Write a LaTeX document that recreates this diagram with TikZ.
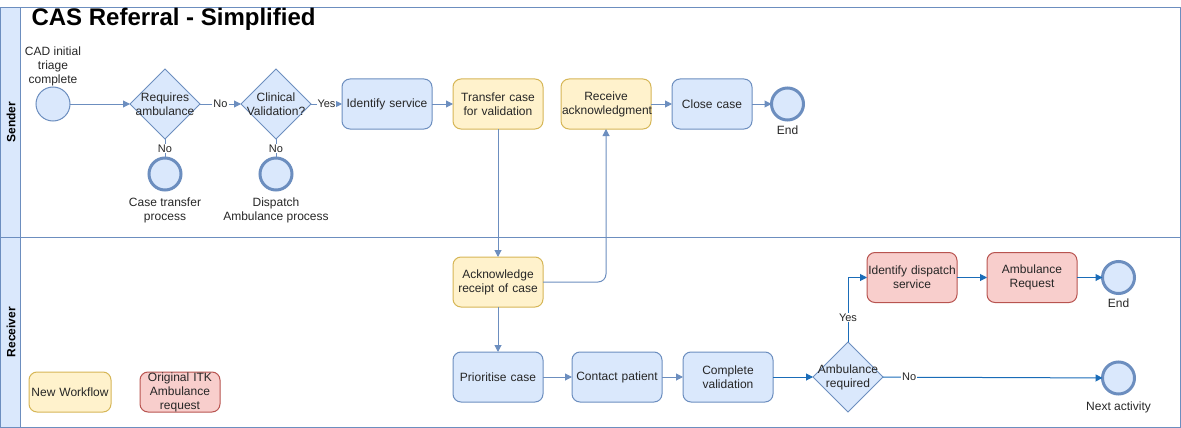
\documentclass[tikz,border=0pt]{standalone}
\usepackage{fontspec}
\setmainfont{Liberation Sans}
\usetikzlibrary{shapes.geometric, positioning}
\usetikzlibrary{arrows.meta}
\definecolor{bluefill}{HTML}{DAE8FC}
\definecolor{blueline}{HTML}{6C8EBF}
\definecolor{yellowfill}{HTML}{FFF2CC}
\definecolor{yellowline}{HTML}{D6B656}
\definecolor{redfill}{HTML}{F8CECC}
\definecolor{redline}{HTML}{B85450}
\definecolor{darkblue}{HTML}{1A6CB8}
\tikzset{>={Triangle[length=7pt,width=7pt]}}

\begin{document}
\begin{tikzpicture}[x=1pt, y=-1pt, font=\fontsize{12}{14}\selectfont, text=black!85,
    task/.style={rectangle, rounded corners=8pt, draw=blueline, fill=bluefill, line width=1pt, minimum width=90pt, text width=88pt, minimum height=50pt, align=center, inner sep=1pt, outer sep=0pt},
    newtask/.style={task, draw=yellowline, fill=yellowfill},
    itktask/.style={task, draw=redline, fill=redfill},
    gateway/.style={diamond, draw=blueline, fill=bluefill, line width=1pt, minimum size=70pt, inner sep=0pt, outer sep=0pt, shape aspect=1},
    startevent/.style={circle, draw=blueline, fill=bluefill, line width=1pt, minimum size=34pt, inner sep=0pt, outer sep=0pt},
    endevent/.style={circle, draw=blueline, fill=bluefill, line width=3pt, minimum size=32pt, inner sep=0pt, outer sep=0pt},
    emptynode/.style={draw=none, fill=none, align=center},
    lanelabel/.style={emptynode, rotate=90, text=black, font=\fontsize{12}{14}\selectfont\bfseries},
    edgelabel/.style={fill=white, inner sep=1pt, font=\fontsize{11}{13}\selectfont},
    flow/.style={->, draw=blueline, line width=1pt},
    darkflow/.style={->, draw=darkblue, line width=1pt}]

    \useasboundingbox (0,0) rectangle (1181,428);

    %Pool and lanes
    \fill[bluefill] (0.5,7.5) rectangle (20.5,427);
    \draw[blueline, line width=1pt] (0.5,7.5) rectangle (1180.5,427);
    \draw[blueline, line width=1pt] (20.5,7.5) -- (20.5,427);
    \draw[blueline, line width=1pt] (0.5,237) -- (1180.5,237);
    \node[lanelabel](sender_lane) at (11,122){Sender};
    \node[lanelabel](receiver_lane) at (11,332){Receiver};
    \node[emptynode, anchor=west, text=black, font=\fontsize{24}{28}\selectfont\bfseries](title) at (28,19.5){CAS Referral - Simplified};

    %Nodes - sender
    \node[startevent](start) at (53,104){};
    \node[emptynode](start_text) at (53,66){CAD initial\\triage\\complete};
    \node[gateway, label={[align=center]center:Requires\\ambulance}](requires) at (165,104){};
    \node[gateway, label={[align=center]center:Clinical\\Validation?}](clinical) at (276,104){};
    \node[endevent, label={[align=center, yshift=-4pt]below:Case transfer\\process}](case_transfer) at (165,174){};
    \node[endevent, label={[align=center, yshift=-4pt]below:Dispatch\\Ambulance process}](dispatch_process) at (276,174){};
    \node[task](identify) at (387,104){Identify service};
    \node[newtask](transfer)[right=21pt of identify]{Transfer case\\for validation};
    \node[newtask](receive)[right=18pt of transfer]{Receive\\acknowledgment};
    \node[task, minimum width=80pt, text width=78pt](close)[right=21pt of receive]{Close case};
    \node[endevent, label={[yshift=-2pt]below:End}](end_sender)[right=19.5pt of close]{};

    %Nodes - receiver
    \node[newtask](acknowledge) at (498,282){Acknowledge\\receipt of case};
    \node[task](prioritise)[below=45pt of acknowledge]{Prioritise case};
    \node[task](contact)[right=29pt of prioritise]{Contact patient};
    \node[task](complete)[right=21pt of contact]{Complete\\validation};
    \node[gateway, label={[align=center]center:Ambulance\\required}](amb_required)[right=40pt of complete]{};
    \node[itktask](identify_dispatch) at (912,277.5){Identify dispatch\\service};
    \node[itktask](amb_request)[right=30pt of identify_dispatch]{Ambulance\\Request};
    \node[endevent, label={[yshift=-2pt]below:End}](end_receiver) at (1118.5,277.5){};
    \node[endevent, label={[yshift=-4pt]below:Next activity}](next) at (1118.5,378){};

    %Legend
    \node[newtask, minimum width=80pt, text width=80pt, minimum height=40pt](legend_new) at (70,392){New Workflow};
    \node[itktask, minimum width=80pt, text width=80pt, minimum height=40pt, inner sep=0pt](legend_itk) at (180,392){Original ITK\\Ambulance\\request};

    %Lines
    \draw[flow] (start) -- (requires);
    \draw[flow] (requires) -- node[edgelabel]{No} (clinical);
    \draw[flow] (clinical) -- node[edgelabel]{Yes} (identify);
    \draw[draw=blueline, line width=1pt] (requires.south) -- node[edgelabel]{No} (case_transfer.north);
    \draw[draw=blueline, line width=1pt] (clinical.south) -- node[edgelabel]{No} (dispatch_process.north);
    \draw[flow] (identify) -- (transfer);
    \draw[flow] (receive) -- (close);
    \draw[flow] (close) -- (end_sender);
    \draw[flow] (transfer) -- (acknowledge);
    \draw[flow, rounded corners=8pt] (acknowledge.east) -| (receive.south);
    \draw[flow] (acknowledge) -- (prioritise);
    \draw[flow] (prioritise) -- (contact);
    \draw[flow] (contact) -- (complete);
    \draw[darkflow] (complete) -- (amb_required);
    \draw[darkflow] (amb_required.north) |- node[edgelabel, pos=0.19]{Yes} (identify_dispatch.west);
    \draw[darkflow] (amb_required) -- node[edgelabel, pos=0.12]{No} (next);
    \draw[darkflow] (identify_dispatch) -- (amb_request);
    \draw[darkflow] (amb_request) -- (end_receiver);

\end{tikzpicture}
\end{document}
